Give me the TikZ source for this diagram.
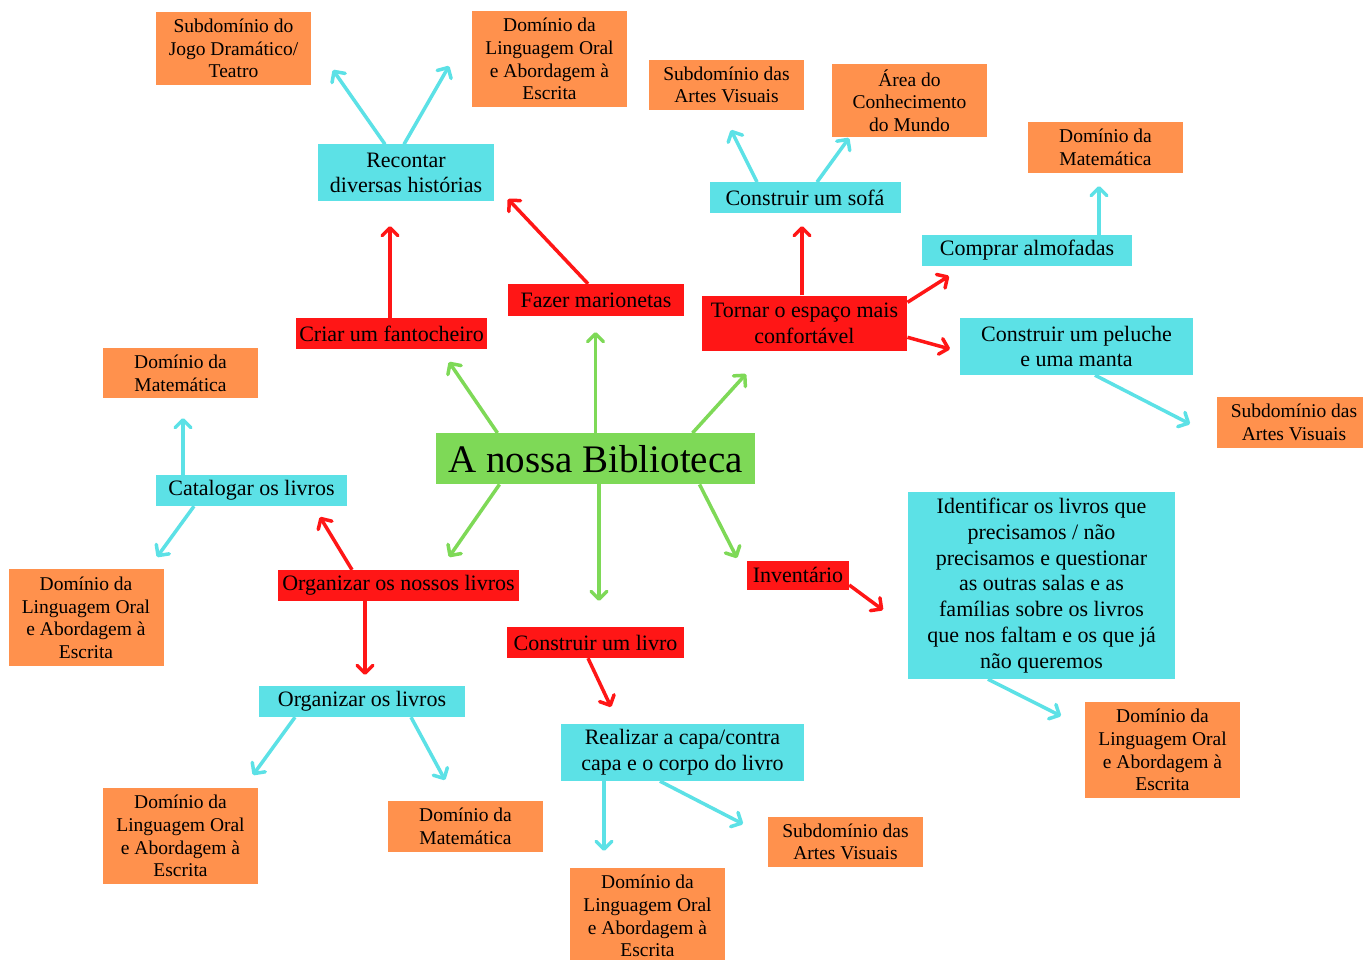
\documentclass[tikz,border=0pt]{standalone}
\usepackage{fontspec}
\setmainfont{Liberation Serif}
\usetikzlibrary{arrows.meta}
\definecolor{orng}{HTML}{FF914D}
\definecolor{cyn}{HTML}{5CE1E6}
\definecolor{grn}{HTML}{7ED957}
\definecolor{rd}{HTML}{FF1616}
\tikzset{
  box/.style={inner sep=0pt, align=center, text=black},
  orangebox/.style={box, fill=orng, minimum width=155pt, font=\fontsize{19.5}{22.7}\selectfont},
  cyanbox/.style={box, fill=cyn, font=\fontsize{22}{25.8}\selectfont},
  redbox/.style={box, fill=rd, font=\fontsize{22}{25.8}\selectfont},
  arr/.style={line width=3.5pt, -{Straight Barb[length=8pt,width=16pt,round]}},
  garrow/.style={arr, draw=grn},
  rarrow/.style={arr, draw=rd},
  carrow/.style={arr, draw=cyn},
}
\begin{document}
\begin{tikzpicture}[x=1pt,y=-1pt]
\useasboundingbox (0,0) rectangle (1363,960);
\fill[white] (0,0) rectangle (1363,960);

% orange nodes
\node[orangebox, minimum height=73pt] (O1) at (233.5,48.5) {Subdomínio do\\Jogo Dramático/\\Teatro};
\node[orangebox, minimum height=96pt] (O2) at (549.5,59) {Domínio da\\Linguagem Oral\\e Abordagem à\\Escrita};
\node[orangebox, minimum height=50pt] (O3) at (726.5,85) {Subdomínio das\\Artes Visuais};
\node[orangebox, minimum height=73pt] (O4) at (909.5,100.5) {Área do\\Conhecimento\\do Mundo};
\node[orangebox, minimum height=51pt] (O5) at (1105.5,147.5) {Domínio da\\Matemática};
\node[orangebox, minimum height=50pt] (O6) at (180.5,373) {Domínio da\\Matemática};
\node[orangebox, minimum height=51pt] (O7) at (1294,422.5) {Subdomínio das\\Artes Visuais};
\node[orangebox, minimum height=97pt] (O8) at (86,617.7) {Domínio da\\Linguagem Oral\\e Abordagem à\\Escrita};
\node[orangebox, minimum height=96pt] (O9) at (180.5,836) {Domínio da\\Linguagem Oral\\e Abordagem à\\Escrita};
\node[orangebox, minimum height=51pt] (O10) at (465.5,826.5) {Domínio da\\Matemática};
\node[orangebox, minimum height=50pt] (O11) at (845.5,842) {Subdomínio das\\Artes Visuais};
\node[orangebox, minimum height=96pt] (O12) at (647.5,916) {Domínio da\\Linguagem Oral\\e Abordagem à\\Escrita};
\node[orangebox, minimum height=96pt] (O13) at (1162.5,750) {Domínio da\\Linguagem Oral\\e Abordagem à\\Escrita};

% cyan nodes
\node[cyanbox, minimum width=176pt, minimum height=57pt] (C1) at (406,173) {Recontar\\diversas histórias};
\node[cyanbox, minimum width=191pt, minimum height=31pt] (C2) at (805,197.8) {Construir um sofá};
\node[cyanbox, minimum width=210pt, minimum height=31pt] (C3) at (1027,250.5) {Comprar almofadas};
\node[cyanbox, minimum width=233pt, minimum height=57pt] (C4) at (1076.5,346.5) {Construir um peluche\\e uma manta};
\node[cyanbox, minimum width=191pt, minimum height=31pt] (C5) at (251.5,490.5) {Catalogar os livros};
\node[cyanbox, minimum width=267pt, minimum height=187pt] (C6) at (1041.5,585.5) {Identificar os livros que\\precisamos / não\\precisamos e questionar\\as outras salas e as\\famílias sobre os livros\\que nos faltam e os que já\\não queremos};
\node[cyanbox, minimum width=206pt, minimum height=31pt] (C7) at (362,701.5) {Organizar os livros};
\node[cyanbox, minimum width=243pt, minimum height=57pt] (C8) at (682.5,752.5) {Realizar a capa/contra\\capa e o corpo do livro};

% red nodes
\node[redbox, minimum width=191pt, minimum height=31pt] (R1) at (391.5,333.5) {Criar um fantocheiro};
\node[redbox, minimum width=176pt, minimum height=32pt] (R2) at (596,300) {Fazer marionetas};
\node[redbox, minimum width=205.6pt, minimum height=55.3pt] (R3) at (804.5,323.3) {Tornar o espaço mais\\confortável};
\node[redbox, minimum width=241pt, minimum height=31pt] (R4) at (398.5,585.5) {Organizar os nossos livros};
\node[redbox, minimum width=177pt, minimum height=31pt] (R5) at (595.5,642.5) {Construir um livro};
\node[redbox, minimum width=102pt, minimum height=29pt] (R6) at (798,575) {Inventário};

% green centre
\node[box, fill=grn, minimum width=319pt, minimum height=51pt, font=\fontsize{39}{45}\selectfont] (G) at (595.5,458.7) {A nossa Biblioteca};

% free arrow ends
\coordinate (g1) at (449,362);
\coordinate (g2) at (595.5,332);
\coordinate (g3) at (746,374);
\coordinate (g4) at (449,557);
\coordinate (g5) at (599,601);
\coordinate (g6) at (737,558);
\coordinate (r1) at (390,226);
\coordinate (r2) at (508,199);
\coordinate (r3) at (802,226);
\coordinate (r4) at (949,276);
\coordinate (r5) at (950,349);
\coordinate (r6) at (320,517);
\coordinate (r7) at (365,675);
\coordinate (r8) at (611,707);
\coordinate (r9) at (883,610);
\coordinate (c1) at (333,70);
\coordinate (c2) at (449,66);
\coordinate (c3) at (731,130);
\coordinate (c4) at (849,138);
\coordinate (c5) at (1099,186);
\coordinate (c6) at (1190,424);
\coordinate (c7) at (183,418);
\coordinate (c8) at (157,557);
\coordinate (c9) at (1061,716);
\coordinate (c10) at (253,775);
\coordinate (c11) at (445,780);
\coordinate (c12) at (743,824);
\coordinate (c13) at (604,851);

% green arrows
\draw[garrow] ([xshift=-98pt]G.north) -- (g1);
\draw[garrow] (G.north) -- (g2);
\draw[garrow] ([xshift=97pt]G.north) -- (g3);
\draw[garrow] ([xshift=-96pt]G.south) -- (g4);
\draw[garrow] ([xshift=3.5pt]G.south) -- (g5);
\draw[garrow] ([xshift=104pt]G.south) -- (g6);

% red arrows
\draw[rarrow] ([xshift=-1.5pt]R1.north) -- (r1);
\draw[rarrow] ([xshift=-8pt]R2.north) -- (r2);
\draw[rarrow] ([xshift=-2.5pt]R3.north) -- (r3);
\draw[rarrow] ([yshift=21pt]R3.east) -- (r4);
\draw[rarrow] ([yshift=-14pt]R3.east) -- (r5);
\draw[rarrow] ([xshift=-46.5pt]R4.north) -- (r6);
\draw[rarrow] ([xshift=-33.5pt]R4.south) -- (r7);
\draw[rarrow] ([xshift=-7.5pt]R5.south) -- (r8);
\draw[rarrow] ([yshift=-10pt]R6.east) -- (r9);

% cyan arrows
\draw[carrow] ([xshift=-21pt]C1.north) -- (c1);
\draw[carrow] ([xshift=-2pt]C1.north) -- (c2);
\draw[carrow] ([xshift=-48pt]C2.north) -- (c3);
\draw[carrow] ([xshift=12pt]C2.north) -- (c4);
\draw[carrow] ([xshift=72pt]C3.north) -- (c5);
\draw[carrow] ([xshift=18.5pt]C4.south) -- (c6);
\draw[carrow] ([xshift=-68.5pt]C5.north) -- (c7);
\draw[carrow] ([xshift=-57.5pt]C5.south) -- (c8);
\draw[carrow] ([xshift=-53.5pt]C6.south) -- (c9);
\draw[carrow] ([xshift=-67pt]C7.south) -- (c10);
\draw[carrow] ([xshift=49pt]C7.south) -- (c11);
\draw[carrow] ([xshift=-22.5pt]C8.south) -- (c12);
\draw[carrow] ([xshift=-78.5pt]C8.south) -- (c13);
\end{tikzpicture}
\end{document}
